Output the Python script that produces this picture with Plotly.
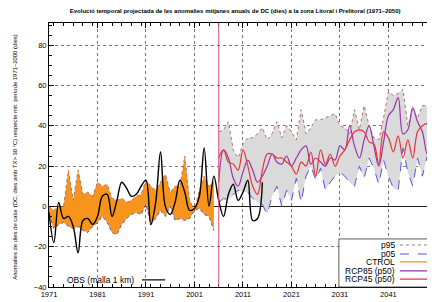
import plotly.graph_objects as go

# ---------------- data ----------------
ctrl_years = list(range(1971, 2006))
ctrl_p95 = [0, -2, 0, 0, 18, 3, 18, 6, 7, 5, 12, 10, 11, 4, 3, 4, 2, 3, 5, 6, 13,
            10, 8, 12, 16, 7, 10, 10, 25, 3, -2, 8, 15, 10, 12]
ctrl_p05 = [-4, -11, -9, -8, -10, -11, -10, -12, -13, -10, -8, -5, -8, -13, -14, -9,
            -6, -4, -3, -4, 1, -9, -6, -2, -5, 0, -7, -6, -7, -6, -2, -1, -4, -5, -12]

fut_years = list(range(2006, 2051))
fut_p95 = [37, 38, 42, 28, 24, 31, 34, 34, 36, 39, 33, 36, 42, 34, 40, 37, 33, 48, 36,
           39, 43, 43, 44, 45, 46, 40, 39, 36, 48, 38, 50, 40, 34, 33, 44, 57, 55, 56,
           58, 40, 48, 44, 50, 50, 58]
fut_p05 = [2, 4, 3, 6, 8, 7, 7, 4, 2, 1, -4, 5, 10, 0, 8, 3, 14, 2, 15, 20, 13, 19,
           8, 12, 15, 17, 15, 12, 10, 20, 14, 24, 19, 11, 23, 15, 9, 8, 29, 17, 10,
           24, 15, 25, 28]
rcp85 = [12, 28, 24, 14, 10, 17, 23, 18, 12, 15, 20, 26, 22, 21, 25, 20, 24, 28, 30,
         21, 24, 22, 20, 24, 23, 30, 28, 40, 30, 24, 33, 40, 30, 20, 32, 45, 48, 54,
         36, 38, 49, 42, 37, 26, 35]
rcp45 = [24, 28, 22, 21, 18, 28, 20, 10, 6, 18, 26, 26, 24, 24, 22, 20, 16, 22, 20,
         27, 15, 28, 21, 26, 20, 25, 28, 33, 37, 38, 37, 32, 31, 21, 37, 34, 27, 35,
         24, 33, 24, 37, 40, 41, 38]

obs_years = list(range(1971, 2016))
obs = [-3, -18, 2, -6, -5, -10, -23, -7, -6, -9, -5, 5, 6, -5, 3, 12, 9, 5, 6, 10,
       13, -9, 2, 27, 0, -4, 2, 13, 7, -2, -1, 5, 29, 0, 15, 3, -5, 6, 11, 3, 7,
       13, -7, -6, 12]

split_year = 2006
x_ticks = [1971, 1981, 1991, 2001, 2011, 2021, 2031, 2041, 2051]
y_ticks = [-40, -20, 0, 20, 40, 60, 80]

title = ("Evolució temporal projectada de les anomalies mitjanes anuals de DC (dies) "
         "a la zona Litoral i Prelitoral (1971–2050)")
ytitle = ("Anomalies de dies de calor (DC, dies amb TX> 30 °C) respecte mit. "
          "període 1971–2000 (dies)")

C_P95 = "#b07070"
C_P05 = "#5555dd"
C_CTRL = "#f7941d"
C_R85 = "#9933aa"
C_R45 = "#e8333a"
FONT = "Liberation Sans, Arial, sans-serif"

fig = go.Figure()

# control band
fig.add_trace(go.Scatter(x=ctrl_years, y=ctrl_p05, mode="lines",
                         line=dict(color=C_P05, width=1, dash="dot"), showlegend=False))
fig.add_trace(go.Scatter(x=ctrl_years, y=ctrl_p95, mode="lines", fill="tonexty",
                         fillcolor=C_CTRL, line=dict(color=C_P95, width=1, dash="dot"),
                         showlegend=False))
# future band
fig.add_trace(go.Scatter(x=fut_years, y=fut_p05, mode="lines",
                         line=dict(color=C_P05, width=1, dash="dash"), showlegend=False))
fig.add_trace(go.Scatter(x=fut_years, y=fut_p95, mode="lines", fill="tonexty",
                         fillcolor="#dadada", line=dict(color=C_P95, width=1, dash="dot"),
                         showlegend=False))
# medians
fig.add_trace(go.Scatter(x=fut_years, y=rcp85, mode="lines",
                         line=dict(color=C_R85, width=1.2, shape="spline", smoothing=1),
                         showlegend=False))
fig.add_trace(go.Scatter(x=fut_years, y=rcp45, mode="lines",
                         line=dict(color=C_R45, width=1.2, shape="spline", smoothing=1),
                         showlegend=False))
# observations
fig.add_trace(go.Scatter(x=obs_years, y=obs, mode="lines",
                         line=dict(color="black", width=1.4, shape="spline", smoothing=1),
                         showlegend=False))

# split line
fig.add_shape(type="line", xref="x", yref="paper", x0=split_year, x1=split_year,
              y0=0, y1=1, line=dict(color="#e05070", width=1))

# manual gnuplot-style legend
fig.add_shape(type="rect", xref="paper", yref="paper", x0=0.751, x1=1.05,
              y0=0.0, y1=0.182, line=dict(color="#333", width=0.8),
              fillcolor="white", layer="above")
leg = [("p95", C_P95, "dot"), ("p05", C_P05, "dash"), ("CTROL", C_CTRL, "solid"),
       ("RCP85 (p50)", C_R85, "solid"), ("RCP45 (p50)", C_R45, "solid")]
leg_y = [0.159, 0.125, 0.095, 0.061, 0.030]
for (name, col, dash), yy in zip(leg, leg_y):
    fig.add_annotation(xref="paper", yref="paper", x=0.902, y=yy, text=name,
                       showarrow=False, xanchor="right", yanchor="middle",
                       font=dict(size=8.5, family=FONT, color="black"))
    fig.add_shape(type="line", xref="paper", yref="paper", x0=0.909, x1=0.99,
                  y0=yy, y1=yy, line=dict(color=col, width=1.2, dash=dash),
                  layer="above")
fig.add_annotation(xref="paper", yref="paper", x=0.226, y=0.027,
                   text="OBS (malla 1 km)", showarrow=False, xanchor="right",
                   yanchor="middle", font=dict(size=8.5, family=FONT, color="black"))
fig.add_shape(type="line", xref="paper", yref="paper", x0=0.241, x1=0.301,
              y0=0.027, y1=0.027, line=dict(color="black", width=1.2))

fig.add_annotation(xref="paper", yref="paper", x=0.992, y=0, yshift=-8,
                   text="2051", showarrow=False, xanchor="left", yanchor="middle",
                   font=dict(size=7.5, family=FONT, color="black"))

# y-axis title as rotated annotation
fig.add_annotation(xref="paper", yref="paper", x=-0.088, y=0.49, text=ytitle,
                   textangle=-90, showarrow=False, xanchor="center", yanchor="middle",
                   font=dict(size=5.9, family=FONT, color="black"))

fig.update_layout(
    width=427, height=294,
    margin=dict(l=41, r=0, t=15, b=15),
    paper_bgcolor="white", plot_bgcolor="white",
    font=dict(family=FONT, size=7.5, color="black"),
    title=dict(text="<b>" + title + "</b>", x=0.532, xanchor="center", y=0.99,
               yanchor="middle", font=dict(size=6, family=FONT)),
    showlegend=False,
)
fig.update_xaxes(range=[1971, 2050.6], tickvals=x_ticks, ticks="inside", ticklen=5,
                 tickcolor="black", showline=True, linecolor="black", linewidth=1,
                 mirror="allticks", showgrid=True, gridcolor="#777", griddash="dot",
                 gridwidth=0.7, zeroline=False, tickfont=dict(size=7.5),
                 minor=dict(dtick=2, ticks="inside", ticklen=3, tickcolor="black",
                            showgrid=False))
fig.update_yaxes(range=[-40, 91], tickvals=y_ticks, ticks="inside", ticklen=5,
                 tickcolor="black", showline=True, linecolor="black", linewidth=1,
                 mirror="allticks", showgrid=True, gridcolor="#777", griddash="dot",
                 gridwidth=0.7, zeroline=True, zerolinecolor="#222", zerolinewidth=1,
                 tickfont=dict(size=7.5),
                 minor=dict(dtick=5, ticks="inside", ticklen=3, tickcolor="black",
                            showgrid=False))

fig.write_html("out.html")
